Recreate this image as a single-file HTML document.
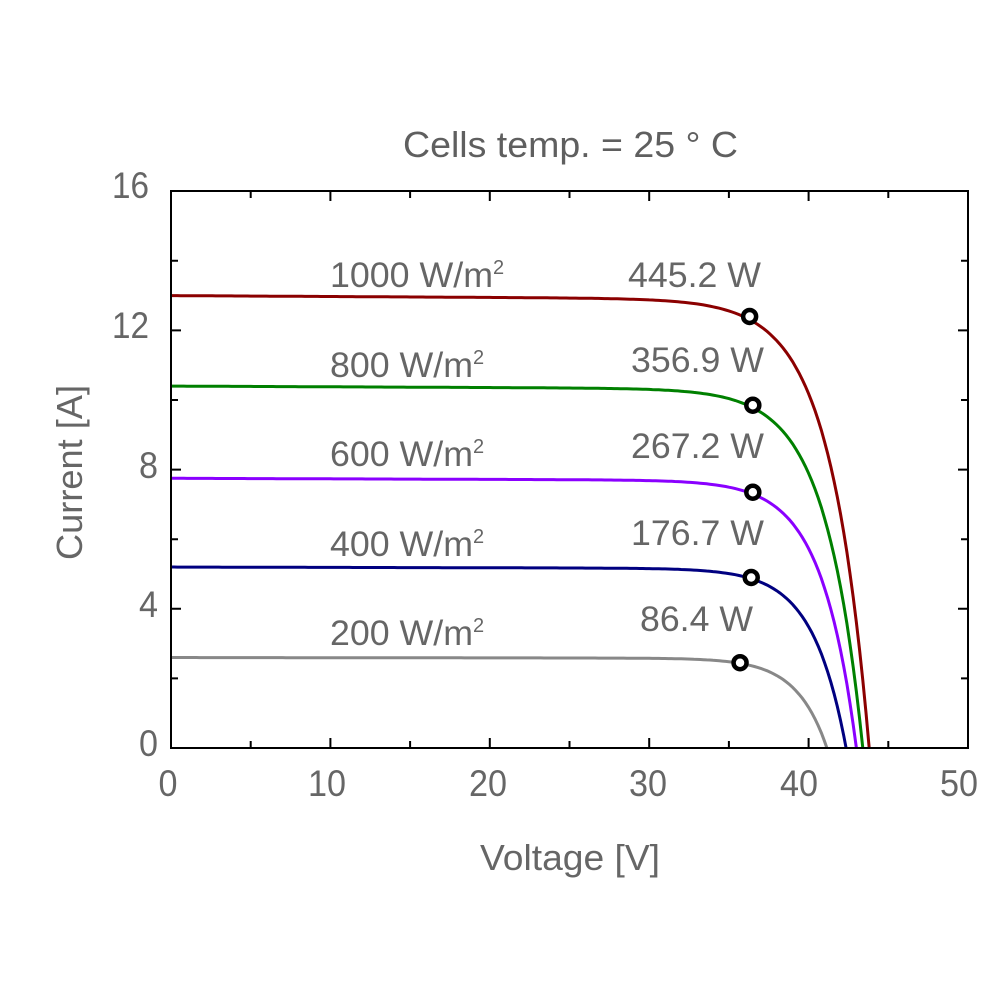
<!DOCTYPE html>
<html><head><meta charset="utf-8"><style>html,body{margin:0;padding:0;background:#fff}svg{display:block}</style></head>
<body>
<svg id="s" width="1000" height="1000" xmlns="http://www.w3.org/2000/svg" font-family="Liberation Sans, sans-serif" fill="#666">
<text x="403" y="157" font-size="36" textLength="335" lengthAdjust="spacingAndGlyphs" fill="#5f5f5f">Cells temp. = 25 ° C</text>
<g id="curves"></g>
<rect x="171" y="191" width="797" height="557" fill="none" stroke="#000" stroke-width="2"/>
<g id="ticks" stroke="#000" stroke-width="2"></g>
<g font-size="37" fill="#666" text-anchor="end">
<text x="149" y="198" textLength="37" lengthAdjust="spacingAndGlyphs">16</text>
<text x="149" y="338" textLength="37" lengthAdjust="spacingAndGlyphs">12</text>
<text x="158" y="478" textLength="19" lengthAdjust="spacingAndGlyphs">8</text>
<text x="158" y="617" textLength="19" lengthAdjust="spacingAndGlyphs">4</text>
<text x="158" y="756" textLength="19" lengthAdjust="spacingAndGlyphs">0</text>
</g>
<g font-size="37" fill="#666" text-anchor="middle">
<text x="168" y="796" textLength="19" lengthAdjust="spacingAndGlyphs">0</text>
<text x="327" y="796" textLength="38" lengthAdjust="spacingAndGlyphs">10</text>
<text x="488" y="796" textLength="38" lengthAdjust="spacingAndGlyphs">20</text>
<text x="648" y="796" textLength="38" lengthAdjust="spacingAndGlyphs">30</text>
<text x="799" y="796" textLength="38" lengthAdjust="spacingAndGlyphs">40</text>
<text x="959" y="796" textLength="38" lengthAdjust="spacingAndGlyphs">50</text>
</g>
<text x="480" y="870" font-size="36" textLength="180" lengthAdjust="spacingAndGlyphs">Voltage [V]</text>
<text transform="translate(82,560) rotate(-90)" font-size="36" textLength="175" lengthAdjust="spacingAndGlyphs">Current [A]</text>
<g font-size="35" fill="#666">
<text x="330" y="287" textLength="163" lengthAdjust="spacingAndGlyphs">1000 W/m</text><text x="493" y="274" font-size="20">2</text>
<text x="330" y="377" textLength="143" lengthAdjust="spacingAndGlyphs">800 W/m</text><text x="473" y="364" font-size="20">2</text>
<text x="330" y="466" textLength="143" lengthAdjust="spacingAndGlyphs">600 W/m</text><text x="473" y="453" font-size="20">2</text>
<text x="330" y="556" textLength="143" lengthAdjust="spacingAndGlyphs">400 W/m</text><text x="473" y="543" font-size="20">2</text>
<text x="330" y="645" textLength="143" lengthAdjust="spacingAndGlyphs">200 W/m</text><text x="473" y="632" font-size="20">2</text>
<text x="628" y="287" textLength="133" lengthAdjust="spacingAndGlyphs">445.2 W</text>
<text x="631" y="372" textLength="133" lengthAdjust="spacingAndGlyphs">356.9 W</text>
<text x="631" y="458" textLength="133" lengthAdjust="spacingAndGlyphs">267.2 W</text>
<text x="631" y="545" textLength="133" lengthAdjust="spacingAndGlyphs">176.7 W</text>
<text x="640" y="631" textLength="113" lengthAdjust="spacingAndGlyphs">86.4 W</text>
</g>
<g id="marks"></g>
</svg>
<script>
var X=function(v){return 171+v*15.94},Y=function(i){return 748-i*34.8};
var ns="http://www.w3.org/2000/svg";
var cs=[[13.0,43.8,36.3,12.4,"#8b0000"],[10.4,43.4,36.5,9.85,"#008000"],[7.75,43.0,36.5,7.35,"#8a00ff"],[5.2,42.35,36.4,4.9,"#000080"],[2.6,41.15,35.7,2.45,"#888888"]];
var g=document.getElementById("curves"),m=document.getElementById("marks");
cs.forEach(function(c){
 var isc=c[0],voc=c[1],a=(c[2]-voc)/Math.log(1-c[3]/isc);
 var d="";
 for(var v=0;v<=voc;v+=0.2){var i=isc*(1-Math.exp((v-voc)/a))*(1-0.002*v/10);d+=(d?"L":"M")+X(v).toFixed(1)+" "+Y(i).toFixed(1);}
 d+="L"+X(voc).toFixed(1)+" "+Y(0);
 var p=document.createElementNS(ns,"path");p.setAttribute("d",d);p.setAttribute("fill","none");p.setAttribute("stroke",c[4]);p.setAttribute("stroke-width","3");g.appendChild(p);
 var ci=document.createElementNS(ns,"circle");ci.setAttribute("cx",X(c[2]));ci.setAttribute("cy",Y(c[3]));ci.setAttribute("r","6.5");ci.setAttribute("fill","#fff");ci.setAttribute("stroke","#000");ci.setAttribute("stroke-width","4.5");m.appendChild(ci);
});
var t=document.getElementById("ticks"),s="";
for(var k=1;k<10;k++){var x=X(k*5),L=(k%2==0)?10:7;s+="M"+x+" 748V"+(748-L)+"M"+x+" 191V"+(191+L);}
for(var k=1;k<8;k++){var y=Y(k*2),L=(k%2==0)?10:7;s+="M171 "+y+"H"+(171+L)+"M968 "+y+"H"+(968-L);}
var tp=document.createElementNS(ns,"path");tp.setAttribute("d",s);t.appendChild(tp);
</script>
</body></html>
